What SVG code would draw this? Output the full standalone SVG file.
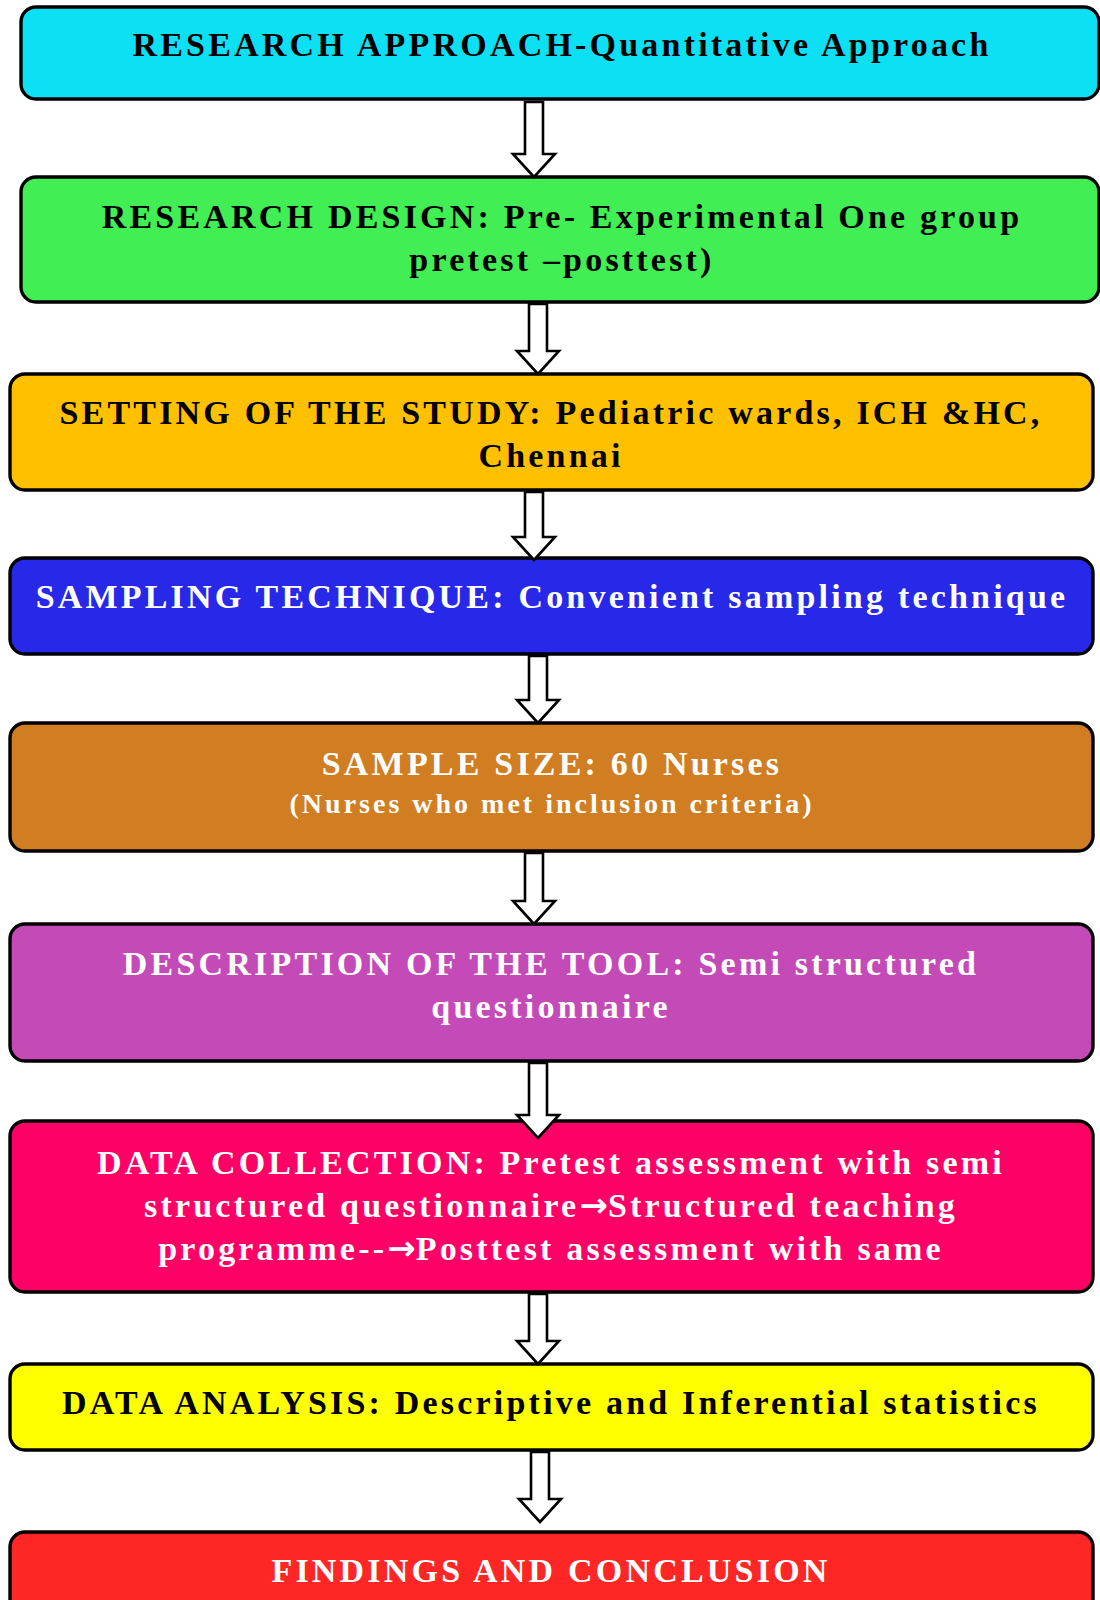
<svg xmlns="http://www.w3.org/2000/svg" width="1100" height="1600" viewBox="0 0 1100 1600">
<style>
.box{stroke:#000;stroke-width:3.4}
.t{font-family:"Liberation Serif","Times New Roman",serif;font-weight:bold;font-size:34px;letter-spacing:3.2px;text-anchor:middle}
.s{font-size:28px;letter-spacing:3px}
.ar{font-family:"DejaVu Sans",sans-serif;font-weight:bold;font-size:34px;letter-spacing:0}
.dk{fill:#000}
.wt{fill:#fff}
.arr{fill:#fff;stroke:#000;stroke-width:2.6;stroke-linejoin:miter}
</style>
<rect width="1100" height="1600" fill="#fff"/>
<g id="n1"><rect class="box" x="21" y="7" width="1078" height="92" rx="15" fill="#0CE0F4"/><text class="t dk" x="562" y="56">RESEARCH APPROACH-Quantitative Approach</text></g>
<g id="n2"><rect class="box" x="21" y="177" width="1078" height="125" rx="15" fill="#41EE53"/><text class="t dk" x="562" y="228">RESEARCH DESIGN: Pre- Experimental One group</text><text class="t dk" x="562" y="271">pretest –posttest)</text></g>
<g id="n3"><rect class="box" x="10" y="374" width="1083" height="116" rx="15" fill="#FFC000"/><text class="t dk" x="551" y="424">SETTING OF THE STUDY: Pediatric wards, ICH &amp;HC,</text><text class="t dk" x="551" y="467">Chennai</text></g>
<g id="n4"><rect class="box" x="10" y="558" width="1083" height="96" rx="15" fill="#2828E8"/><text class="t wt" x="552" y="608">SAMPLING TECHNIQUE: Convenient sampling technique</text></g>
<g id="n5"><rect class="box" x="10" y="723" width="1083" height="128" rx="15" fill="#D17D21"/><text class="t wt" x="552" y="775">SAMPLE SIZE: 60 Nurses</text><text class="t s wt" x="552" y="813">(Nurses who met inclusion criteria)</text></g>
<g id="n6"><rect class="box" x="10" y="924" width="1083" height="137" rx="15" fill="#C44AB8"/><text class="t wt" x="551" y="975">DESCRIPTION OF THE TOOL: Semi structured</text><text class="t wt" x="551" y="1018">questionnaire</text></g>
<g id="n7"><rect class="box" x="10" y="1121" width="1083" height="171" rx="15" fill="#FF0066"/><text class="t wt" x="551" y="1174">DATA COLLECTION: Pretest assessment with semi</text><text class="t wt" x="551" y="1217">structured questionnaire<tspan class="ar">→</tspan>Structured teaching</text><text class="t wt" x="551" y="1260">programme--<tspan class="ar">→</tspan>Posttest assessment with same</text></g>
<g id="n8"><rect class="box" x="10" y="1364" width="1083" height="86" rx="15" fill="#FFFF00"/><text class="t dk" x="551" y="1414">DATA ANALYSIS: Descriptive and Inferential statistics</text></g>
<g id="n9"><rect class="box" x="10" y="1532" width="1083" height="120" rx="15" fill="#FF2626"/><text class="t wt" x="551" y="1582">FINDINGS AND CONCLUSION</text></g>
<g id="connectors">
<polygon class="arr" points="525,102 543,102 543,154 555,154 534,177 513,154 525,154"/>
<polygon class="arr" points="529,304 547,304 547,351 559,351 538,374 517,351 529,351"/>
<polygon class="arr" points="525,492 543,492 543,537 555,537 534,560 513,537 525,537"/>
<polygon class="arr" points="529,656 547,656 547,700 559,700 538,723 517,700 529,700"/>
<polygon class="arr" points="525,853 543,853 543,901 555,901 534,924 513,901 525,901"/>
<polygon class="arr" points="529,1063 547,1063 547,1115 559,1115 538,1138 517,1115 529,1115"/>
<polygon class="arr" points="529,1294 547,1294 547,1341 559,1341 538,1364 517,1341 529,1341"/>
<polygon class="arr" points="531,1452 549,1452 549,1499 561,1499 540,1522 519,1499 531,1499"/>
</g>
</svg>
